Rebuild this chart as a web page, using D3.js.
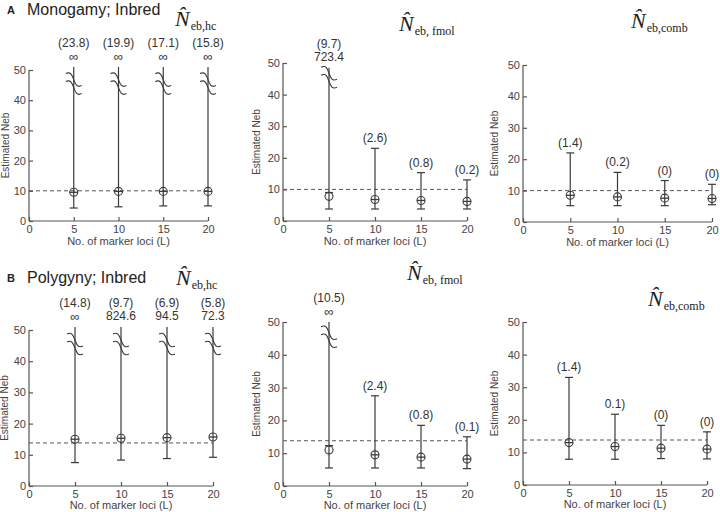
<!DOCTYPE html>
<html><head><meta charset="utf-8">
<script src="https://cdn.jsdelivr.net/npm/d3@7"></script>
<style>body{margin:0;background:#fff}svg{display:block}</style>
</head><body>
<script>
// ---- data ----
const loci = [5, 10, 15, 20];
const xTicks = [0, 5, 10, 15, 20];
const yTicks = [0, 10, 20, 30, 40, 50];

// Panel A: Monogamy; Inbred (true Neb = 10)
const trueA = 10;
const A_hc_mean = [9.5, 9.8, 9.8, 9.8];
const A_hc_low = [4.3, 4.7, 5.0, 5.0];
const A_hc_up = [Infinity, Infinity, Infinity, Infinity];
const A_hc_pct = ["(23.8)", "(19.9)", "(17.1)", "(15.8)"];
const A_hc_upLabel = ["∞", "∞", "∞", "∞"];

const A_fm_mean = [7.8, 6.8, 6.5, 6.2];
const A_fm_mid = [9.0, 6.8, 6.5, 6.2];
const A_fm_low = [3.8, 3.8, 3.8, 3.8];
const A_fm_up = [723.4, 23.0, 15.3, 13.0];
const A_fm_pct = ["(9.7)", "(2.6)", "(0.8)", "(0.2)"];
const A_fm_upLabel = ["723.4", "", "", ""];

const A_cb_mean = [8.5, 8.0, 7.6, 7.5];
const A_cb_low = [5.2, 5.2, 5.2, 5.5];
const A_cb_up = [22.0, 15.8, 13.2, 12.0];
const A_cb_pct = ["(1.4)", "(0.2)", "(0)", "(0)"];

// Panel B: Polygyny; Inbred (true Neb = 13.8)
const trueB = 13.8;
const B_hc_mean = [15.0, 15.3, 15.5, 15.7];
const B_hc_low = [7.5, 8.3, 8.8, 9.2];
const B_hc_up = [Infinity, 824.6, 94.5, 72.3];
const B_hc_pct = ["(14.8)", "(9.7)", "(6.9)", "(5.8)"];
const B_hc_upLabel = ["∞", "824.6", "94.5", "72.3"];

const B_fm_mean = [11.0, 9.5, 8.8, 8.2];
const B_fm_mid = [12.3, 9.5, 8.8, 8.2];
const B_fm_low = [5.5, 5.5, 5.5, 5.3];
const B_fm_up = [Infinity, 27.5, 18.5, 15.0];
const B_fm_pct = ["(10.5)", "(2.4)", "(0.8)", "(0.1)"];
const B_fm_upLabel = ["∞", "", "", ""];

const B_cb_mean = [13.0, 11.8, 11.3, 11.0];
const B_cb_low = [7.9, 7.9, 8.1, 8.0];
const B_cb_up = [33.0, 21.7, 18.3, 16.3];
const B_cb_pct = ["(1.4)", "0.1)", "(0)", "(0)"];

// ---- layout ----
const W = 720, H = 512;
const svg = d3.select("body").append("svg").attr("width", W).attr("height", H);
const font = "'Liberation Sans', Arial, Helvetica, sans-serif";
const ink = "#3a3a3a", axisCol = "#555";

const panels = [
  {box:[29,208,70,221], xt:24, yl:-24, truth:trueA, mean:A_hc_mean, mid:A_hc_mean, low:A_hc_low, up:A_hc_up, pct:A_hc_pct, upLab:A_hc_upLabel, sub:"eb,hc", t:[175,26], capTop:51},
  {box:[283,467,63,221], xt:24, yl:-27, truth:trueA, mean:A_fm_mean, mid:A_fm_mid, low:A_fm_low, up:A_fm_up, pct:A_fm_pct, upLab:A_fm_upLabel, sub:"eb, fmol", t:[399,31], capTop:48.5},
  {box:[523,712,65,222], xt:24, yl:-29, truth:trueA, mean:A_cb_mean, mid:A_cb_mean, low:A_cb_low, up:A_cb_up, pct:A_cb_pct, upLab:["","","",""], sub:"eb,comb", t:[631,28], capTop:50},
  {box:[29,213,330,486], xt:23, yl:-25, truth:trueB, mean:B_hc_mean, mid:B_hc_mean, low:B_hc_low, up:B_hc_up, pct:B_hc_pct, upLab:B_hc_upLabel, sub:"eb,hc", t:[176,285], capTop:51},
  {box:[283,467,322,486], xt:23, yl:-27, truth:trueB, mean:B_fm_mean, mid:B_fm_mid, low:B_fm_low, up:B_fm_up, pct:B_fm_pct, upLab:B_fm_upLabel, sub:"eb, fmol", t:[407,280], capTop:50},
  {box:[523,707,322,485], xt:23, yl:-29, truth:trueB, mean:B_cb_mean, mid:B_cb_mean, low:B_cb_low, up:B_cb_up, pct:B_cb_pct, upLab:["","","",""], sub:"eb,comb", t:[648,306], capTop:50}
];

// panel headings
[["A","Monogamy; Inbred",15],["B","Polygyny; Inbred",283]].forEach(([l,t,y])=>{
  svg.append("text").attr("x",7).attr("y",y-1).attr("font-family",font).attr("font-weight","bold")
     .attr("font-size",11).attr("fill","#222").text(l);
  svg.append("text").attr("x",27).attr("y",y).attr("font-family",font)
     .attr("font-size",16).attr("fill","#222").text(t);
});

panels.forEach(p => {
  const [x0,x1,yTop,yBot] = p.box;
  const x = d3.scaleLinear().domain([0,20]).range([x0,x1]);
  const y = d3.scaleLinear().domain([0,50]).range([yBot,yTop]);
  const g = svg.append("g");

  // axes
  const ax = g.append("g").attr("transform",`translate(0,${yBot})`)
    .call(d3.axisBottom(x).tickValues(xTicks).tickSizeInner(-4).tickSizeOuter(0).tickPadding(4));
  const ay = g.append("g").attr("transform",`translate(${x0},0)`)
    .call(d3.axisLeft(y).tickValues(yTicks).tickSizeInner(-4).tickSizeOuter(0).tickPadding(3));
  [ax,ay].forEach(a=>{
    a.selectAll("path,line").attr("stroke",axisCol).attr("stroke-width",1.2);
    a.selectAll("text").attr("font-family",font).attr("font-size",11).attr("fill","#444");
  });
  ay.select(".domain").attr("d",`M0,${yBot}V${yTop}`);
  ax.select(".domain").attr("d",`M${x0},0H${x1}`);

  // axis titles
  g.append("text").attr("x",(x0+x1)/2).attr("y",yBot+p.xt).attr("text-anchor","middle")
    .attr("font-family",font).attr("font-size",11).attr("fill","#444").text("No. of marker loci (L)");
  g.append("text").attr("transform",`translate(${x0+p.yl},${(yTop+yBot)/2}) rotate(-90)`)
    .attr("text-anchor","middle").attr("dy","0.35em").attr("font-family",font).attr("font-size",10).attr("fill","#444")
    .text("Estimated Neb");

  // true value dashed line
  g.append("line").attr("x1",x(0)).attr("x2",x(20)).attr("y1",y(p.truth)).attr("y2",y(p.truth))
    .attr("stroke","#555").attr("stroke-width",1).attr("stroke-dasharray","4,3");

  // error bars
  loci.forEach((L,i) => {
    const cx = x(L);
    const broken = p.up[i] > 50;
    const topV = broken ? p.capTop : p.up[i];
    g.append("line").attr("x1",cx).attr("x2",cx).attr("y1",y(p.low[i])).attr("y2",y(topV))
      .attr("stroke",ink).attr("stroke-width",1.2);
    g.append("line").attr("x1",cx-4).attr("x2",cx+4).attr("y1",y(p.low[i])).attr("y2",y(p.low[i]))
      .attr("stroke",ink).attr("stroke-width",1.2);
    if (!broken) {
      g.append("line").attr("x1",cx-4).attr("x2",cx+4).attr("y1",y(p.up[i])).attr("y2",y(p.up[i]))
        .attr("stroke",ink).attr("stroke-width",1.2);
    } else {
      // axis-break symbol: two parallel S-curves
      const yb = y(45.5);
      [-4,4].forEach(off=>{
        const yy = yb+off;
        g.append("path")
          .attr("d",`M${cx-8},${yy-6} C${cx+2},${yy-11} ${cx-2},${yy+11} ${cx+8},${yy+6}`)
          .attr("fill","none").attr("stroke",ink).attr("stroke-width",1.1);
      });
    }
    // marker: circle + mid tick
    g.append("circle").attr("cx",cx).attr("cy",y(p.mean[i])).attr("r",4)
      .attr("fill","none").attr("stroke",ink).attr("stroke-width",1.1);
    g.append("line").attr("x1",cx-4).attr("x2",cx+4).attr("y1",y(p.mid[i])).attr("y2",y(p.mid[i]))
      .attr("stroke",ink).attr("stroke-width",1.3);

    // labels
    const lab = p.upLab[i];
    const baseY = broken ? y(p.capTop) - 6 : y(p.up[i]) - 6;
    if (lab) {
      g.append("text").attr("x",cx).attr("y",baseY - (lab==="∞"?0:1)).attr("text-anchor","middle")
        .attr("font-family",font).attr("font-size",lab==="∞"?13:12).attr("fill","#333").text(lab);
      g.append("text").attr("x",cx).attr("y",baseY-14).attr("text-anchor","middle")
        .attr("font-family",font).attr("font-size",12).attr("fill","#333").text(p.pct[i]);
    } else {
      g.append("text").attr("x",cx).attr("y",baseY).attr("text-anchor","middle")
        .attr("font-family",font).attr("font-size",12).attr("fill","#333").text(p.pct[i]);
    }
  });

  // estimator title: N-hat with subscript
  const [tx,ty] = p.t;
  const tt = g.append("text").attr("x",tx).attr("y",ty).attr("font-family","'Liberation Serif','Times New Roman',serif").attr("fill","#222");
  tt.append("tspan").attr("font-style","italic").attr("font-size",22).text("N̂");
  tt.append("tspan").attr("font-size",12).attr("dy",4).attr("dx",1).text(p.sub);
});
</script>
</body></html>
